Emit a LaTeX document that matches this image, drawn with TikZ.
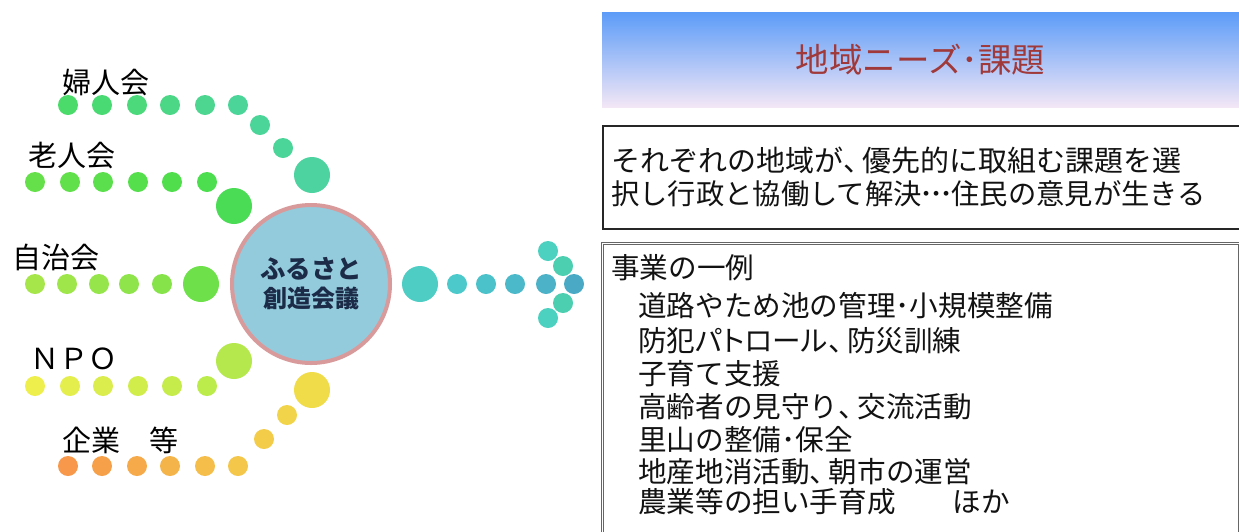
\documentclass[tikz,border=0pt]{standalone}
\usepackage{fontspec}
\setmainfont{Noto Sans CJK JP}
\newfontfamily\pfont[RawFeature=+palt]{Noto Sans CJK JP}
\newcommand\nten{\makebox[19pt][l]{、}}
\newcommand\ndot{\makebox[10pt]{･}}
\definecolor{raA}{HTML}{4ADB6A}\definecolor{raB}{HTML}{4CD598}\definecolor{raC}{HTML}{4DD3A0}
\definecolor{rbA}{HTML}{66E04A}\definecolor{rbB}{HTML}{4CDE4E}\definecolor{rbC}{HTML}{4ADC55}
\definecolor{rcA}{HTML}{A6E64A}\definecolor{rcB}{HTML}{86E44A}\definecolor{rcC}{HTML}{6EE14A}
\definecolor{rdA}{HTML}{EEEE4C}\definecolor{rdB}{HTML}{BCEC4C}\definecolor{rdC}{HTML}{B4E84C}
\definecolor{reA}{HTML}{F7984A}\definecolor{reB}{HTML}{F4C64A}\definecolor{reC}{HTML}{F3CC4A}\definecolor{reD}{HTML}{F2D44A}\definecolor{reE}{HTML}{F0DC48}
\definecolor{arA}{HTML}{4ECDC4}\definecolor{arB}{HTML}{4CC9CB}\definecolor{arF}{HTML}{4AAAC6}
\definecolor{chA}{HTML}{4CD0C0}\definecolor{chB}{HTML}{4CCFB0}
\definecolor{hubfill}{HTML}{93CBDD}\definecolor{hubline}{HTML}{D89A9A}\definecolor{hubtext}{HTML}{1B2B48}
\definecolor{hdrtop}{HTML}{5C9CF8}\definecolor{hdrmid}{HTML}{9CC6F2}\definecolor{hdrbot}{HTML}{F3E7F6}
\definecolor{hdrtext}{HTML}{A0393A}
\begin{document}
\begin{tikzpicture}[x=1pt,y=-1pt,
  dot/.style={circle, inner sep=0pt, minimum size=20pt, fill=#1},
  bigdot/.style={circle, inner sep=0pt, minimum size=36pt, fill=#1},
  lab/.style={anchor=base west, inner sep=0pt, font=\fontsize{29}{33}\selectfont},
  body/.style={anchor=base west, inner sep=0pt, font=\fontsize{28.6}{33}\selectfont, text=black!93},
  hubtxt/.style={anchor=base, inner sep=0pt, text=hubtext}]
\clip (0,0) rectangle (1239,531);
\fill[white] (0,0) rectangle (1239,531);

% --- left labels
\node[lab] (l1) at (62,93) {婦人会};
\node[lab] (l2) at (28,166) {老人会};
\node[lab] (l3) at (12,268) {自治会};
\node[lab, anchor=base] (l4) at (74,369) {ＮＰＯ};
\node[lab] (l5) at (62,451) {企業　等};

% --- row 1
\foreach \x/\p [count=\i] in {68/100,102/80,137/60,170/40,205/20,238/0}
  \node[dot=raA!\p!raB] (a\i) at (\x,105) {};
\node[dot=raB] (a7) at (260,125) {};
\node[dot=raB] (a8) at (283,148) {};
\node[bigdot=raC] (a9) at (312,175) {};
% --- row 2
\foreach \x/\p [count=\i] in {35/100,70/80,103/60,138/40,172/20,207/0}
  \node[dot=rbA!\p!rbB] (b\i) at (\x,182) {};
\node[bigdot=rbC] (b7) at (234,206) {};
% --- row 3
\foreach \x/\p [count=\i] in {35/100,67/75,99/50,129/25,162/0}
  \node[dot=rcA!\p!rcB] (c\i) at (\x,284) {};
\node[bigdot=rcC] (c6) at (201,284) {};
% --- row 4
\foreach \x/\p [count=\i] in {35/100,70/80,103/60,138/40,172/20,207/0}
  \node[dot=rdA!\p!rdB] (d\i) at (\x,386) {};
\node[bigdot=rdC] (d7) at (234,361) {};
% --- row 5
\foreach \x/\p [count=\i] in {68/100,102/80,137/60,170/40,205/20,238/0}
  \node[dot=reA!\p!reB] (e\i) at (\x,466) {};
\node[dot=reC] (e7) at (264,439) {};
\node[dot=reD] (e8) at (287,415) {};
\node[bigdot=reE] (e9) at (312,390) {};

% --- hub
\node[circle, draw=hubline, line width=4pt, fill=hubfill, minimum size=158pt, inner sep=0pt] (hub) at (311,284) {};
\node[hubtxt, font=\fontsize{25.5}{28}\selectfont\bfseries] (hub1) at (311,278) {ふるさと};
\node[hubtxt, font=\fontsize{24}{28}\selectfont\bfseries] (hub2) at (311,307) {創造会議};

% --- arrow of dots
\node[bigdot=arA] (f0) at (420,284) {};
\foreach \x/\p [count=\i] in {457/100,486/75,515/50,546/25,574/0}
  \node[dot=arB!\p!arF] (f\i) at (\x,284) {};
\node[dot=chA] (g1) at (548,251) {};
\node[dot=chB] (g2) at (563,266) {};
\node[dot=chB] (g3) at (563,303) {};
\node[dot=chA] (g4) at (548,318) {};

% --- header
\node[anchor=north west, minimum width=637pt, minimum height=95pt, inner sep=0pt,
      top color=hdrtop, middle color=hdrmid, bottom color=hdrbot,
      text=hdrtext, font=\fontsize{33.5}{36}\selectfont] (hdr) at (602,12) {地域ニーズ･課題};

% --- task box
\node[draw=black!85, line width=1.5pt, anchor=north west, minimum width=645pt, minimum height=103pt, inner sep=0pt] (task) at (602,125) {};
\node[body, font=\fontsize{29}{33}\selectfont] (t1) at (611,171) {それぞれの地域が\nten 優先的に取組む課題を選};
\node[body, font=\fontsize{28.3}{33}\selectfont] (t2) at (611,204) {択し行政と協働して解決\ndot\ndot\ndot 住民の意見が生きる};

% --- examples box (double border)
\node[draw=black!60, line width=0.9pt, anchor=north west, minimum width=640pt, minimum height=320pt, inner sep=0pt] (ex) at (600.5,241.5) {};
\draw[black!60, line width=0.9pt] ([shift={(2.6pt,-2.6pt)}]ex.north west) rectangle ([shift={(-2.6pt,2.6pt)}]ex.south east);
\node[body] (x0) at (611,278) {事業の一例};
\node[body] (x1) at (638,316) {道路やため池の管理･小規模整備};
\node[body] (x2) at (638,351) {防犯{\pfont パトロール}\nten 防災訓練};
\node[body] (x3) at (638,384) {子育て支援};
\node[body] (x4) at (638,417) {高齢者の見守り\nten 交流活動};
\node[body] (x5) at (638,450) {里山の整備･保全};
\node[body] (x6) at (638,482) {地産地消活動\nten 朝市の運営};
\node[body] (x7) at (638,512) {農業等の担い手育成　　ほか};
\end{tikzpicture}
\end{document}
